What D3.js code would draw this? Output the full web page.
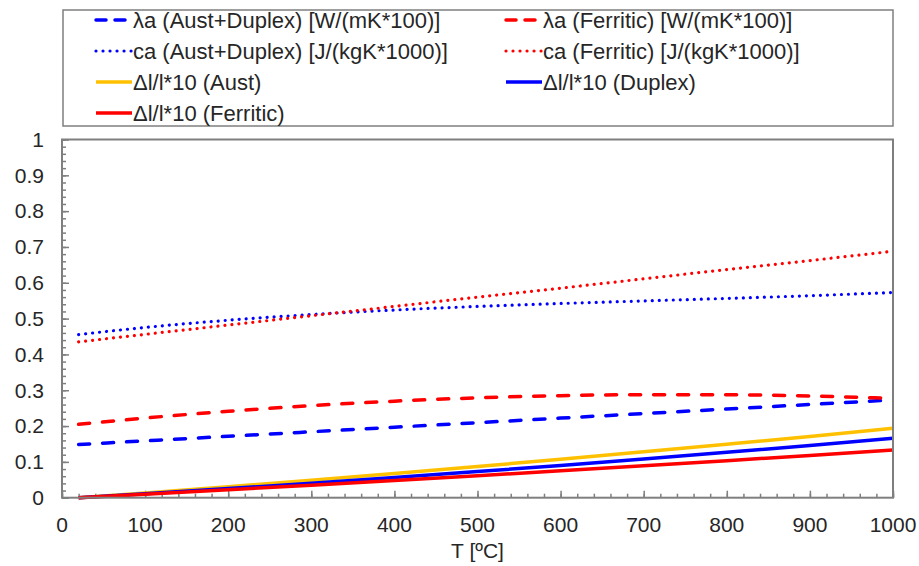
<!DOCTYPE html>
<html>
<head>
<meta charset="utf-8">
<script src="https://cdn.jsdelivr.net/npm/d3@7"></script>
<style>
  html, body { margin: 0; padding: 0; background: #fff; }
  svg { display: block; font-family: "Liberation Sans", Arial, sans-serif; }
</style>
</head>
<body>
<svg id="chart" width="919" height="566"></svg>
<script>
// Temperature grid [ºC]
const temps = [20, 100, 200, 300, 400, 500, 600, 700, 800, 900, 1000];

// Thermal conductivity / 100 [W/(mK*100)]
const lambdaAustDuplex = [0.1485, 0.1587, 0.1714, 0.1841, 0.1968, 0.2095, 0.2222, 0.2349, 0.2476, 0.2603, 0.2730];
const lambdaFerritic   = [0.2050, 0.2224, 0.2413, 0.2570, 0.2695, 0.2788, 0.2849, 0.2877, 0.2874, 0.2839, 0.2772];

// Specific heat / 1000 [J/(kgK*1000)]
const caAustDuplex = [0.4555, 0.4752, 0.4954, 0.5114, 0.5240, 0.5340, 0.5422, 0.5494, 0.5564, 0.5640, 0.5730];
const caFerritic   = [0.4350, 0.4560, 0.4820, 0.5080, 0.5340, 0.5600, 0.5850, 0.6110, 0.6370, 0.6620, 0.6880];

// Thermal elongation x10
const elongAust     = [0.0000, 0.0132, 0.0305, 0.0487, 0.0676, 0.0872, 0.1074, 0.1281, 0.1493, 0.1710, 0.1940];
const elongDuplex   = [0.0000, 0.0110, 0.0255, 0.0406, 0.0564, 0.0730, 0.0902, 0.1081, 0.1267, 0.1460, 0.1660];
const elongFerritic = [0.0000, 0.0097, 0.0221, 0.0348, 0.0478, 0.0612, 0.0749, 0.0889, 0.1033, 0.1180, 0.1330];

// Axis ticks
const xTicks = [0, 100, 200, 300, 400, 500, 600, 700, 800, 900, 1000];
const yTicks = [0, 0.1, 0.2, 0.3, 0.4, 0.5, 0.6, 0.7, 0.8, 0.9, 1];
const xLabel = "T [ºC]";

const BLUE = "#0000ff", RED = "#ff0000", ORANGE = "#ffc000";

const series = [
  { name: "λa (Aust+Duplex) [W/(mK*100)]", values: lambdaAustDuplex, color: BLUE, style: "dash" },
  { name: "λa (Ferritic) [W/(mK*100)]", values: lambdaFerritic, color: RED, style: "dash" },
  { name: "ca (Aust+Duplex) [J/(kgK*1000)]", values: caAustDuplex, color: BLUE, style: "dot" },
  { name: "ca (Ferritic) [J/(kgK*1000)]", values: caFerritic, color: RED, style: "dot" },
  { name: "Δl/l*10 (Aust)", values: elongAust, color: ORANGE, style: "solid" },
  { name: "Δl/l*10 (Duplex)", values: elongDuplex, color: BLUE, style: "solid" },
  { name: "Δl/l*10 (Ferritic)", values: elongFerritic, color: RED, style: "solid" }
];

const styleAttrs = {
  dash:  { width: 3.5, dash: "11 13", cap: "round" },
  dot:   { width: 3.2, dash: "0.01 7", cap: "round" },
  solid: { width: 3.5, dash: null, cap: "butt" }
};

const svg = d3.select("#chart");
const plot = { left: 62, right: 893, top: 139.5, bottom: 497.7 };
const FRAME = "#7f7f7f";
const TEXT = "#262626";
const AXIS_FONT = 21;
const LEGEND_FONT = 22;

const x = d3.scaleLinear().domain([0, 1000]).range([plot.left, plot.right]);
const y = d3.scaleLinear().domain([0, 1]).range([plot.bottom, plot.top]);

// Axes with inward-facing major and minor ticks
const xMinor = d3.range(0, 1001, 20);
const yMinor = d3.range(0, 51).map(i => i * 0.02);

const gx = svg.append("g").attr("transform", `translate(0,${plot.bottom})`);
gx.call(d3.axisTop(x).tickValues(xMinor).tickSize(4).tickFormat(""));
gx.call(g => g.selectAll(".domain").remove());
const gxMaj = svg.append("g").attr("transform", `translate(0,${plot.bottom})`);
gxMaj.call(d3.axisTop(x).tickValues(xTicks).tickSize(7).tickFormat(""));
gxMaj.call(g => g.selectAll(".domain").remove());

const gy = svg.append("g").attr("transform", `translate(${plot.left},0)`);
gy.call(d3.axisRight(y).tickValues(yMinor).tickSize(4).tickFormat(""));
gy.call(g => g.selectAll(".domain").remove());
const gyMaj = svg.append("g").attr("transform", `translate(${plot.left},0)`);
gyMaj.call(d3.axisRight(y).tickValues(yTicks).tickSize(7).tickFormat(""));
gyMaj.call(g => g.selectAll(".domain").remove());

svg.selectAll(".tick line").attr("stroke", FRAME).attr("stroke-width", 1.5);

// Tick labels
svg.append("g").selectAll("text").data(xTicks).join("text")
  .attr("x", d => x(d)).attr("y", 532)
  .attr("text-anchor", "middle")
  .attr("font-size", AXIS_FONT).attr("fill", TEXT)
  .text(d => d);

svg.append("g").selectAll("text").data(yTicks).join("text")
  .attr("x", 44).attr("y", d => y(d))
  .attr("dy", "0.35em")
  .attr("text-anchor", "end")
  .attr("font-size", AXIS_FONT).attr("fill", TEXT)
  .text(d => d3.format("~g")(d));

svg.append("text")
  .attr("x", (plot.left + plot.right) / 2).attr("y", 558)
  .attr("text-anchor", "middle")
  .attr("font-size", AXIS_FONT).attr("fill", TEXT)
  .text(xLabel);

// Data lines
const line = d3.line().curve(d3.curveMonotoneX);
const lines = svg.append("g");
series.forEach(s => {
  const st = styleAttrs[s.style];
  lines.append("path")
    .attr("d", line(temps.map((t, i) => [x(t), y(s.values[i])])))
    .attr("fill", "none")
    .attr("stroke", s.color)
    .attr("stroke-width", st.width)
    .attr("stroke-linecap", st.cap)
    .attr("stroke-dasharray", st.dash);
});

// Plot frame
svg.append("rect")
  .attr("x", plot.left).attr("y", plot.top)
  .attr("width", plot.right - plot.left).attr("height", plot.bottom - plot.top)
  .attr("fill", "none").attr("stroke", FRAME).attr("stroke-width", 2);

// Legend
const legend = svg.append("g");
legend.append("rect")
  .attr("x", 63).attr("y", 10).attr("width", 830).attr("height", 116)
  .attr("fill", "#fff").attr("stroke", FRAME).attr("stroke-width", 1.5);

const colX = [96, 506];
const rowY = [20, 51, 82, 113];
series.forEach((s, i) => {
  const cx = colX[i % 2], cy = rowY[Math.floor(i / 2)];
  const st = styleAttrs[s.style];
  const item = legend.append("g");
  item.append("line")
    .attr("x1", cx).attr("x2", cx + 36).attr("y1", cy).attr("y2", cy)
    .attr("stroke", s.color)
    .attr("stroke-width", st.width)
    .attr("stroke-linecap", st.cap)
    .attr("stroke-dasharray", s.style === "dash" ? "10 9" : st.dash);
  item.append("text")
    .attr("x", cx + 37).attr("y", cy).attr("dy", "0.35em")
    .attr("font-size", LEGEND_FONT).attr("fill", TEXT)
    .text(s.name);
});
</script>
</body>
</html>
